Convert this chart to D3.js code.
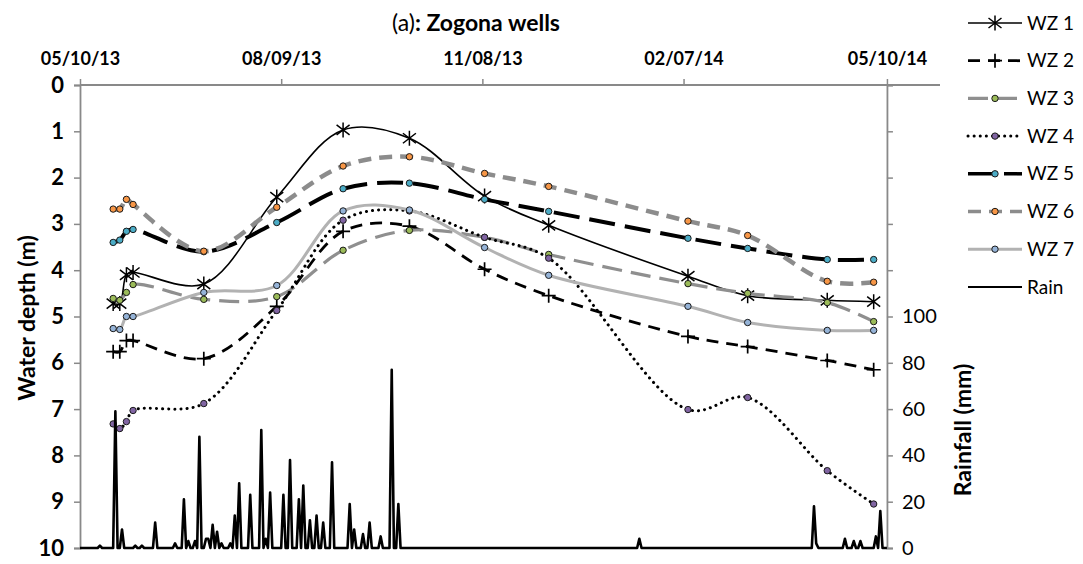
<!DOCTYPE html>
<html>
<head>
<meta charset="utf-8">
<script src="https://cdn.jsdelivr.net/npm/d3@7"></script>
<style>
  body { margin: 0; background: #fff; }
  svg { display: block; font-family: Lato, "Open Sans", sans-serif; }
</style>
</head>
<body>
<svg id="chart" width="1083" height="564"></svg>
<script>
// Well survey dates and water depth below ground (m)
const sampleDates = ["2013-05-25", "2013-05-28", "2013-05-31", "2013-06-03", "2013-07-05", "2013-08-07",
  "2013-09-06", "2013-10-06", "2013-11-09", "2013-12-08", "2014-02-09", "2014-03-08", "2014-04-13", "2014-05-04"];
const wz1 = [4.72, 4.72, 4.10, 4.05, 4.30, 2.42, 0.97, 1.15, 2.40, 3.03, 4.13, 4.55, 4.65, 4.68];
const wz2 = [5.76, 5.76, 5.52, 5.52, 5.91, 4.78, 3.16, 3.05, 3.98, 4.55, 5.43, 5.65, 5.95, 6.15];
const wz3 = [4.61, 4.65, 4.48, 4.31, 4.63, 4.57, 3.57, 3.14, 3.29, 3.66, 4.29, 4.50, 4.70, 5.11];
const wz4 = [7.32, 7.42, 7.27, 7.03, 6.88, 4.87, 2.92, 2.72, 3.29, 3.74, 7.01, 6.75, 8.33, 9.05];
const wz5 = [3.40, 3.35, 3.16, 3.12, 3.60, 2.97, 2.24, 2.12, 2.47, 2.73, 3.31, 3.53, 3.77, 3.77];
const wz6 = [2.68, 2.68, 2.47, 2.58, 3.59, 2.64, 1.75, 1.55, 1.91, 2.19, 2.94, 3.25, 4.24, 4.26];
const wz7 = [5.26, 5.28, 5.00, 5.00, 4.48, 4.33, 2.72, 2.70, 3.51, 4.11, 4.78, 5.13, 5.30, 5.30];

// Daily rainfall (mm); days not listed were dry
const rainDates = ["2013-05-19", "2013-05-26", "2013-05-29", "2013-06-04", "2013-06-07", "2013-06-13",
  "2013-06-22", "2013-06-26", "2013-06-28", "2013-07-01", "2013-07-03", "2013-07-06", "2013-07-07",
  "2013-07-09", "2013-07-11", "2013-07-13", "2013-07-17", "2013-07-19", "2013-07-21", "2013-07-26",
  "2013-07-31", "2013-08-02", "2013-08-04", "2013-08-10", "2013-08-13", "2013-08-17", "2013-08-19",
  "2013-08-22", "2013-08-25", "2013-08-28", "2013-09-01", "2013-09-09", "2013-09-11", "2013-09-15",
  "2013-09-18", "2013-09-23", "2013-09-28", "2013-10-01", "2014-01-18", "2014-04-07", "2014-04-08",
  "2014-04-21", "2014-04-25", "2014-04-28", "2014-05-05", "2014-05-07"];
const rainMm = [1, 59, 8, 1, 1, 11,
  2, 21, 3, 3, 48, 4, 4,
  10, 7, 2, 2, 14, 28, 23,
  51, 4, 24, 23, 38, 21, 27,
  12, 14, 11, 37, 19, 8, 6,
  11, 5, 77, 19, 4, 18, 2,
  4, 3, 3, 5, 16];

const depthTicks = [0, 1, 2, 3, 4, 5, 6, 7, 8, 9, 10];
const rainTicks = [0, 20, 40, 60, 80, 100, 120, 140, 160, 180, 200];
const dateTicks = ["2013-05-10", "2013-08-09", "2013-11-08", "2014-02-07", "2014-05-10"];

const parse = d3.timeParse("%Y-%m-%d");
const fmtDate = d3.timeFormat("%m/%d/%y");
const svg = d3.select("#chart");
const axisGrey = "#898989";
const fontStack = "Lato, 'Open Sans', sans-serif";

const plotLeft = 80, plotRight = 940, plotTop = 85, plotBottom = 548;
const x = d3.scaleTime()
  .domain([parse("2013-05-10"), parse("2014-06-03")])
  .range([plotLeft, plotRight]);
const y = d3.scaleLinear().domain([0, 10]).range([plotTop, plotBottom]);
const yRain = d3.scaleLinear().domain([0, 200]).range([plotBottom, plotTop]);
const rightX = x(parse("2014-05-10"));

// Build the daily rain record for the observation year
const dayKey = d3.timeFormat("%Y-%m-%d");
const rainByDay = new Map(rainDates.map((d, i) => [d, rainMm[i]]));
const days = d3.timeDay.range(parse("2013-05-10"), d3.timeDay.offset(parse("2014-05-10"), 1));
const rainDaily = days.map(d => ({ date: d, mm: rainByDay.get(dayKey(d)) || 0 }));

// ---- Axes ----
const topAxis = svg.append("g").attr("transform", `translate(0,${plotTop})`)
  .call(d3.axisTop(x).tickValues(dateTicks.map(parse)).tickFormat(fmtDate).tickSize(6).tickPadding(14));
topAxis.select(".domain").remove();
topAxis.selectAll(".tick line").attr("stroke", axisGrey).attr("stroke-width", 1.5);
topAxis.selectAll(".tick text").attr("font-size", 18).attr("font-weight", "bold")
  .attr("font-family", fontStack).attr("fill", "#000");
svg.append("line").attr("x1", plotLeft).attr("x2", plotRight).attr("y1", plotTop).attr("y2", plotTop)
  .attr("stroke", axisGrey).attr("stroke-width", 1.8);

const leftAxis = svg.append("g").attr("transform", `translate(${plotLeft},0)`)
  .call(d3.axisLeft(y).tickValues(depthTicks).tickFormat(d3.format("d")).tickSize(6).tickPadding(10));
leftAxis.select(".domain").attr("stroke", axisGrey).attr("stroke-width", 1.8);
leftAxis.selectAll(".tick line").attr("stroke", axisGrey).attr("stroke-width", 1.5);
leftAxis.selectAll(".tick text").attr("font-size", 22).attr("font-weight", "bold")
  .attr("font-family", fontStack).attr("fill", "#000");

const rightAxis = svg.append("g").attr("transform", `translate(${rightX},0)`)
  .call(d3.axisRight(yRain).tickValues(rainTicks)
    .tickFormat(d => d <= 100 ? d3.format("d")(d) : "").tickSize(6).tickPadding(9));
rightAxis.select(".domain").attr("stroke", axisGrey).attr("stroke-width", 1.8);
rightAxis.selectAll(".tick line").attr("stroke", axisGrey).attr("stroke-width", 1.5);
rightAxis.selectAll(".tick text").attr("font-size", 20)
  .attr("font-family", fontStack).attr("fill", "#000");

// ---- Titles ----
const title = svg.append("text").attr("x", 476).attr("y", 31).attr("text-anchor", "middle")
  .attr("font-size", 23).attr("fill", "#000");
title.append("tspan").text("(a)");
title.append("tspan").attr("font-weight", "bold").text(": Zogona wells");

svg.append("text").attr("transform", `translate(35,318) rotate(-90)`).attr("text-anchor", "middle")
  .attr("font-size", 23).attr("font-weight", "bold").attr("fill", "#000").text("Water depth  (m)");
svg.append("text").attr("transform", `translate(971,430) rotate(-90)`).attr("text-anchor", "middle")
  .attr("font-size", 23).attr("font-weight", "bold").attr("fill", "#000").text("Rainfall (mm)");

// ---- Series ----
const wells = [
  { name: "WZ 1", values: wz1, stroke: "#000", width: 1.6, dash: null, marker: "star" },
  { name: "WZ 2", values: wz2, stroke: "#000", width: 2.8, dash: "12 8", marker: "plus" },
  { name: "WZ 3", values: wz3, stroke: "#8f8f8f", width: 3.2, dash: "20 9", marker: "dot", fill: "#9bbb59" },
  { name: "WZ 4", values: wz4, stroke: "#000", width: 3, dash: "0.1 6", cap: "round", marker: "dot", fill: "#8064a2" },
  { name: "WZ 5", values: wz5, stroke: "#000", width: 4, dash: "26 10", marker: "dot", fill: "#4bacc6" },
  { name: "WZ 6", values: wz6, stroke: "#8c8c8c", width: 4.5, dash: "13 8", marker: "dot", fill: "#f79646" },
  { name: "WZ 7", values: wz7, stroke: "#b2b2b2", width: 3, dash: null, marker: "dot", fill: "#95b3d7" }
];
const dates = sampleDates.map(parse);

const lineGen = d3.line().x(d => x(d.date)).y(d => y(d.v)).curve(d3.curveCatmullRom.alpha(0.5));

function drawMarker(g, type, cx, cy, fill) {
  if (type === "star") {
    g.append("path").attr("d", `M${cx},${cy - 7.5}V${cy + 7.5}M${cx - 6.5},${cy - 5}L${cx + 6.5},${cy + 5}M${cx - 6.5},${cy + 5}L${cx + 6.5},${cy - 5}`)
      .attr("stroke", "#000").attr("stroke-width", 1.5).attr("fill", "none");
  } else if (type === "plus") {
    g.append("path").attr("d", `M${cx},${cy - 7}V${cy + 7}M${cx - 7},${cy}H${cx + 7}`)
      .attr("stroke", "#000").attr("stroke-width", 1.7).attr("fill", "none");
  } else if (type === "dot") {
    g.append("circle").attr("cx", cx).attr("cy", cy).attr("r", 3.2)
      .attr("fill", fill).attr("stroke", "#1a1a1a").attr("stroke-width", 1);
  }
}

const seriesG = svg.append("g");
wells.forEach(s => {
  const pts = dates.map((d, i) => ({ date: d, v: s.values[i] }));
  seriesG.append("path").datum(pts).attr("d", lineGen)
    .attr("fill", "none").attr("stroke", s.stroke).attr("stroke-width", s.width)
    .attr("stroke-dasharray", s.dash).attr("stroke-linecap", s.cap || "butt");
  const mg = seriesG.append("g");
  pts.forEach(p => drawMarker(mg, s.marker, x(p.date), y(p.v), s.fill));
});

// Rain on the secondary axis
svg.append("path").datum(rainDaily)
  .attr("d", d3.line().x(d => x(d.date)).y(d => yRain(d.mm)))
  .attr("fill", "none").attr("stroke", "#000").attr("stroke-width", 2.6).attr("stroke-linejoin", "round");

// ---- Legend ----
const legend = svg.append("g");
const legendItems = wells.concat([{ name: "Rain", stroke: "#000", width: 2, dash: null, marker: null }]);
legendItems.forEach((s, i) => {
  const ly = 23 + i * 37.7;
  legend.append("line").attr("x1", 968).attr("x2", 1022).attr("y1", ly).attr("y2", ly)
    .attr("stroke", s.stroke).attr("stroke-width", Math.min(s.width, 3.5))
    .attr("stroke-dasharray", s.dash).attr("stroke-linecap", s.cap || "butt");
  if (s.marker) drawMarker(legend, s.marker, 995, ly, s.fill);
  legend.append("text").attr("x", 1027).attr("y", ly).attr("dy", "0.35em")
    .attr("font-size", 19).attr("fill", "#000").text(s.name);
});
</script>
</body>
</html>
